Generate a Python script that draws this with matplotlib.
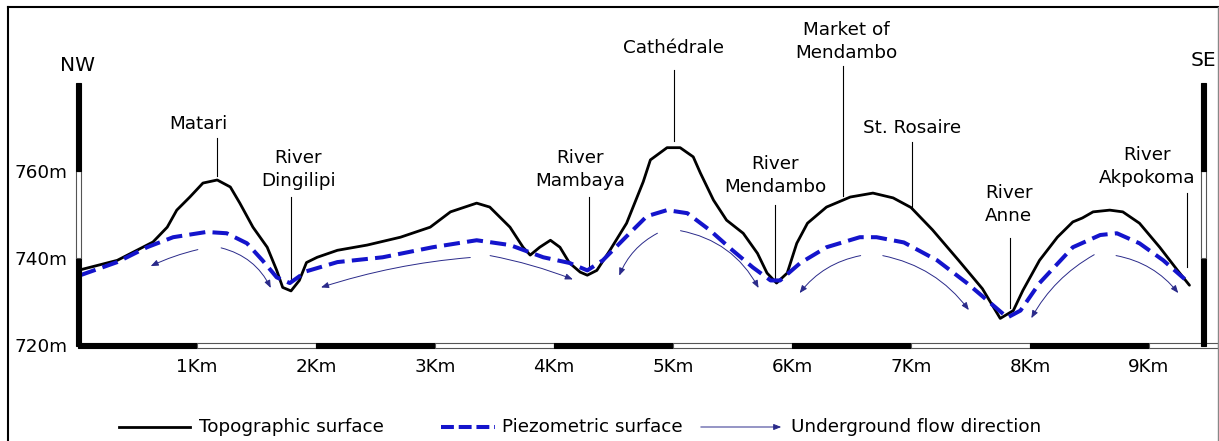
import matplotlib
matplotlib.use('Agg')
import matplotlib.pyplot as plt
from matplotlib.patches import Rectangle, FancyArrowPatch
from matplotlib.lines import Line2D

# ---------------- data ----------------
topo_km = [0.0, 0.33, 0.63, 0.75, 0.83, 0.94, 1.05, 1.17, 1.28, 1.36, 1.47, 1.59, 1.67, 1.72,
           1.79, 1.86, 1.92, 2.01, 2.18, 2.43, 2.71, 2.96, 3.13, 3.35, 3.46, 3.63, 3.74, 3.80,
           3.88, 3.97, 4.05, 4.13, 4.22, 4.28, 4.36, 4.47, 4.61, 4.75, 4.81, 4.95, 5.06, 5.17,
           5.23, 5.34, 5.45, 5.59, 5.71, 5.79, 5.87, 5.96, 6.04, 6.13, 6.29, 6.49, 6.68, 6.85,
           7.00, 7.18, 7.40, 7.60, 7.75, 7.86, 7.94, 8.08, 8.23, 8.36, 8.44, 8.53, 8.67, 8.78,
           8.92, 9.09, 9.24, 9.34]
topo_m = [737.2, 739.5, 743.7, 747.1, 751.0, 754.0, 757.2, 757.9, 756.3, 752.6, 747.1, 742.5, 737.2, 733.3,
          732.5, 734.9, 739.0, 740.2, 741.8, 743.0, 744.8, 747.1, 750.6, 752.6, 751.7, 747.1, 742.5, 740.7,
          742.5, 744.1, 742.5, 738.9, 736.8, 736.1, 737.2, 741.8, 748.0, 757.5, 762.5, 765.3, 765.3, 763.2,
          759.5, 753.3, 748.7, 745.7, 741.1, 736.6, 734.3, 736.6, 743.4, 748.0, 751.7, 754.0, 754.9, 753.8,
          751.6, 746.5, 739.5, 733.0, 726.2, 728.0, 732.6, 739.5, 744.8, 748.3, 749.2, 750.6, 751.0, 750.6,
          748.0, 742.5, 737.2, 733.8]

piezo_km = [0.02, 0.33, 0.58, 0.80, 1.08, 1.25, 1.42, 1.55, 1.67, 1.78, 1.92, 2.18, 2.56, 2.98, 3.35,
            3.63, 3.91, 4.13, 4.28, 4.41, 4.61, 4.78, 4.95, 5.12, 5.31, 5.50, 5.67, 5.82, 5.90, 6.07,
            6.29, 6.57, 6.71, 6.94, 7.22, 7.47, 7.69, 7.81, 7.92, 8.08, 8.36, 8.59, 8.73, 8.92, 9.12, 9.30]
piezo_m = [736.1, 739.1, 742.5, 744.8, 746.0, 745.7, 743.4, 739.5, 735.6, 734.3, 737.0, 739.1, 740.2, 742.5, 744.1,
           743.0, 740.2, 738.9, 737.2, 739.5, 745.0, 749.6, 751.0, 750.3, 746.4, 741.8, 737.9, 734.9, 734.9, 738.9,
           742.5, 744.8, 744.8, 743.6, 739.5, 734.3, 729.2, 726.4, 728.0, 734.3, 742.5, 745.3, 745.7, 743.4, 739.5, 735.2]

flow_start_km = [1.03, 1.18, 3.32, 3.44, 4.89, 5.04, 6.60, 6.74, 8.56, 8.70]
flow_start_m = [742.1, 742.5, 740.2, 740.7, 746.0, 746.4, 740.7, 740.7, 741.1, 740.7]
flow_end_km = [0.59, 1.63, 2.02, 4.18, 4.54, 5.73, 6.05, 7.50, 8.00, 9.26]
flow_end_m = [737.9, 732.6, 733.1, 734.9, 735.4, 732.6, 731.5, 727.6, 725.7, 731.5]
flow_bend = [0.06, -0.25, 0.06, -0.05, 0.2, -0.25, 0.2, -0.2, 0.15, -0.2]

km_ticks = [1, 2, 3, 4, 5, 6, 7, 8, 9]
km_labels = ['1Km', '2Km', '3Km', '4Km', '5Km', '6Km', '7Km', '8Km', '9Km']
m_ticks = [720, 740, 760]
m_labels = ['720m', '740m', '760m']

places = ['Matari', 'River\nDingilipi', 'River\nMambaya', 'Cathédrale', 'River\nMendambo',
          'Market of\nMendambo', 'St. Rosaire', 'River\nAnne', 'River\nAkpokoma']
place_km = [1.01, 1.85, 4.22, 5.00, 5.86, 6.46, 7.01, 7.82, 8.98]
place_m = [770.8, 760.4, 760.4, 788.2, 759.0, 789.7, 769.7, 752.2, 760.9]
leader_km = [1.17, 1.79, 4.29, 5.01, 5.86, 6.43, 7.01, 7.83, 9.32]
leader_top_m = [767.6, 753.9, 753.9, 783.0, 752.1, 784.1, 766.5, 744.7, 755.0]
leader_bot_m = [758.7, 734.9, 737.6, 766.9, 734.9, 754.3, 751.6, 728.5, 737.9]

legend_labels = ['Topographic surface', 'Piezometric surface', 'Underground flow direction']

# ---------------- styling ----------------
W, H = 1219, 441
FS = 13.2
BLUE = '#1414cc'
NAVY = '#2a2a8a'
plt.rcParams['font.family'] = ['DejaVu Sans']

fig = plt.figure(figsize=(W / 100, H / 100), dpi=100)
fig.patch.set_facecolor('white')

px_per_km = 119.0
px_per_m = 4.367
x0_px, y0_px = 78, 345.5
ax = fig.add_axes([x0_px / W, (H - y0_px) / H, (W - 1 - x0_px) / W, (y0_px - 7) / H])
ax.set_xlim(0, (W - 1 - x0_px) / px_per_km)
ax.set_ylim(720, 720 + (y0_px - 7) / px_per_m)
ax.patch.set_alpha(0)
for s in ax.spines.values():
    s.set_visible(False)

ax.set_xticks(km_ticks, km_labels)
ax.set_yticks(m_ticks, m_labels)
ax.tick_params(axis='x', length=0, pad=9.0, labelsize=FS)
ax.tick_params(axis='y', length=0, pad=7.5, labelsize=FS)

# curves
ax.plot(topo_km, topo_m, color='black', lw=2.0, solid_joinstyle='round', solid_capstyle='round',
        zorder=3, clip_on=False)
ax.plot(piezo_km, piezo_m, color=BLUE, lw=2.9, linestyle=(0, (4.0, 1.8)), zorder=4, clip_on=False)

# flow arrows
for xs, ys, xe, ye, rb in zip(flow_start_km, flow_start_m, flow_end_km, flow_end_m, flow_bend):
    ax.add_patch(FancyArrowPatch((xs, ys), (xe, ye), connectionstyle=f'arc3,rad={rb}',
                                 arrowstyle='-|>,head_length=0.5,head_width=0.2',
                                 mutation_scale=9, color=NAVY, lw=0.7, zorder=5, clip_on=False))

# place labels and leaders
for name, tx, ty, lx, lt, lb in zip(places, place_km, place_m, leader_km, leader_top_m, leader_bot_m):
    ax.text(tx, ty, name, ha='center', va='center', fontsize=FS, linespacing=1.35, zorder=6)
    ax.plot([lx, lx], [lt, lb], color='black', lw=0.8, zorder=2)

# scale bars
xmax = ax.get_xlim()[1]
bar_h = 5 / px_per_m
bar_w = 5 / px_per_km
edges = [0] + km_ticks + [xmax]
for i in range(len(edges) - 1):
    black = (i % 2 == 0)
    ax.add_patch(Rectangle((edges[i], 720 - bar_h / 2), edges[i + 1] - edges[i], bar_h,
                           facecolor='black' if black else 'white',
                           edgecolor='black' if black else '#555555', lw=0.8,
                           zorder=7, clip_on=False))
vert_edges = [720, 740, 760, 780]
for bx in [0.0, (1203 - x0_px) / px_per_km]:
    for i in range(len(vert_edges) - 1):
        black = (i % 2 == 0)
        ax.add_patch(Rectangle((bx - bar_w / 2, vert_edges[i]), bar_w, vert_edges[i + 1] - vert_edges[i],
                               facecolor='black' if black else 'white',
                               edgecolor='black' if black else '#555555', lw=0.8,
                               zorder=8, clip_on=False))

ax.text(0.0, 784.1, 'NW', ha='center', va='center', fontsize=14.5)
ax.text((1203 - x0_px) / px_per_km, 785.3, 'SE', ha='center', va='center', fontsize=14.5)

# ---------------- legend (figure pixel coords) ----------------
def fx(p):
    return p / W

def fy(p):
    return 1 - p / H

ly = 427
fig.add_artist(Line2D([fx(119), fx(190)], [fy(ly), fy(ly)], color='black', lw=2.0))
fig.text(fx(199), fy(ly), legend_labels[0], fontsize=FS, va='center', ha='left')
fig.add_artist(Line2D([fx(441), fx(495)], [fy(ly), fy(ly)], color=BLUE, lw=2.9,
                      linestyle=(0, (3.2, 1.2))))
fig.text(fx(502), fy(ly), legend_labels[1], fontsize=FS, va='center', ha='left')
fig.add_artist(FancyArrowPatch((fx(698), fy(ly)), (fx(784), fy(ly)), transform=fig.transFigure,
                               arrowstyle='-|>,head_length=0.5,head_width=0.2',
                               mutation_scale=9, color=NAVY, lw=0.7))
fig.text(fx(791), fy(ly), legend_labels[2], fontsize=FS, va='center', ha='left')

# ---------------- frame ----------------
fig.add_artist(Line2D([fx(7.5), fx(7.5)], [0, fy(7)], color='black', lw=1.5))
fig.add_artist(Line2D([fx(7.5), fx(1218)], [fy(7), fy(7)], color='black', lw=1.5))
fig.add_artist(Line2D([fx(1218), fx(1218)], [0, fy(7)], color='#888888', lw=1.0))

fig.savefig('out.png', dpi=100)
